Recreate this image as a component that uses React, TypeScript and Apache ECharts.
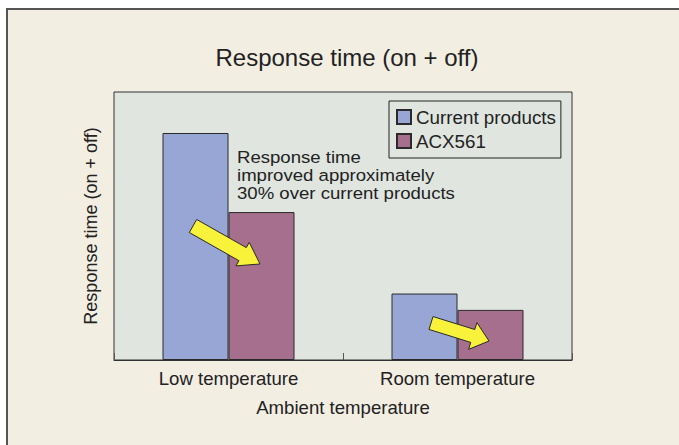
import React, { useEffect, useRef } from "react";
import * as echarts from "echarts";

const categories = ["Low temperature", "Room temperature"];
const currentProducts = [84.7, 24.8];
const acx561 = [55.2, 18.7];
const seriesNames = ["Current products", "ACX561"];

const FONT = "'Liberation Sans', Arial, Helvetica, sans-serif";

function arrowPoints(tx: number, ty: number, hx: number, hy: number, sw: number, hw: number, hl: number) {
  const dx = hx - tx, dy = hy - ty;
  const L = Math.sqrt(dx * dx + dy * dy);
  const ux = dx / L, uy = dy / L;
  const nx = -uy, ny = ux;
  const bx = hx - ux * hl, by = hy - uy * hl;
  return [
    [tx + nx * sw / 2, ty + ny * sw / 2],
    [bx + nx * sw / 2, by + ny * sw / 2],
    [bx + nx * hw / 2, by + ny * hw / 2],
    [hx, hy],
    [bx - nx * hw / 2, by - ny * hw / 2],
    [bx - nx * sw / 2, by - ny * sw / 2],
    [tx - nx * sw / 2, ty - ny * sw / 2],
  ];
}

export default function App() {
  const ref = useRef<HTMLDivElement>(null);
  useEffect(() => {
    if (!ref.current) return;
    const chart = echarts.init(ref.current, undefined, { renderer: "svg" });
    chart.setOption({
      animation: false,
      backgroundColor: "#ffffff",
      textStyle: { fontFamily: FONT },
      title: {
        text: "Response time (on + off)",
        left: 342,
        top: 40,
        textAlign: "center",
        textStyle: { fontFamily: FONT, fontSize: 24, fontWeight: "normal", color: "#222" },
      },
      legend: {
        orient: "vertical",
        left: 389,
        top: 101,
        icon: "rect",
        itemWidth: 14,
        itemHeight: 14,
        itemGap: 4,
        padding: [6, 5, 7, 7],
        borderColor: "#222",
        borderWidth: 1,
        backgroundColor: "#e0e5df",
        textStyle: { fontFamily: FONT, fontSize: 18.8, color: "#222", lineHeight: 20 },
        data: seriesNames,
      },
      grid: {
        left: 114,
        top: 92,
        right: 107,
        bottom: 85,
        show: true,
        backgroundColor: "#e0e5df",
        borderColor: "#333",
        borderWidth: 1,
      },
      xAxis: {
        type: "category",
        data: categories,
        name: "Ambient temperature",
        nameLocation: "middle",
        nameGap: 38,
        nameTextStyle: { fontFamily: FONT, fontSize: 18.6, color: "#222" },
        axisLine: { show: true, lineStyle: { color: "#333", width: 1 } },
        axisTick: { show: true, inside: true, length: 7, lineStyle: { color: "#555" } },
        axisLabel: { fontFamily: FONT, fontSize: 18.6, color: "#222", margin: 9 },
      },
      yAxis: {
        type: "value",
        min: 0,
        max: 100,
        name: "Response time (on + off)",
        nameLocation: "middle",
        nameRotate: 90,
        nameGap: 14,
        nameTextStyle: { fontFamily: FONT, fontSize: 18, color: "#222" },
        axisLine: { show: false },
        axisTick: { show: false },
        axisLabel: { show: false },
        splitLine: { show: false },
      },
      series: [
        {
          name: seriesNames[0],
          type: "bar",
          data: currentProducts,
          barWidth: 66,
          barGap: "0%",
          itemStyle: { color: "#98a6d6", borderColor: "#2a2a2a", borderWidth: 1 },
        },
        {
          name: seriesNames[1],
          type: "bar",
          data: acx561,
          barWidth: 66,
          barGap: "0%",
          itemStyle: { color: "#a56f8d", borderColor: "#2a2a2a", borderWidth: 1 },
        },
      ],
      graphic: {
        elements: [
          {
            type: "rect",
            z: -100,
            silent: true,
            shape: { x: 7, y: 9, width: 700, height: 460 },
            style: { fill: "#f2eee2", stroke: "#555", lineWidth: 2 },
          },
          {
            type: "polygon",
            z: 100,
            shape: { points: arrowPoints(193, 226, 260, 264, 15, 27, 20) },
            style: { fill: "#f8f23a", stroke: "#2a2a2a", lineWidth: 1 },
          },
          {
            type: "polygon",
            z: 100,
            shape: { points: arrowPoints(431, 323, 489, 341, 13.5, 28, 17) },
            style: { fill: "#f8f23a", stroke: "#2a2a2a", lineWidth: 1 },
          },
          {
            type: "text",
            z: 100,
            x: 237,
            y: 148,
            scaleX: 1.094,
            style: {
              text: "Response time\nimproved approximately\n30% over current products",
              font: `17px ${FONT}`,
              fill: "#222",
              lineHeight: 18.3,
              verticalAlign: "top",
              align: "left",
            },
          },
        ],
      },
    });
    return () => chart.dispose();
  }, []);
  return (
    <div
      ref={ref}
      style={{ position: "absolute", left: 0, top: 0, width: 679, height: 445 }}
    />
  );
}
